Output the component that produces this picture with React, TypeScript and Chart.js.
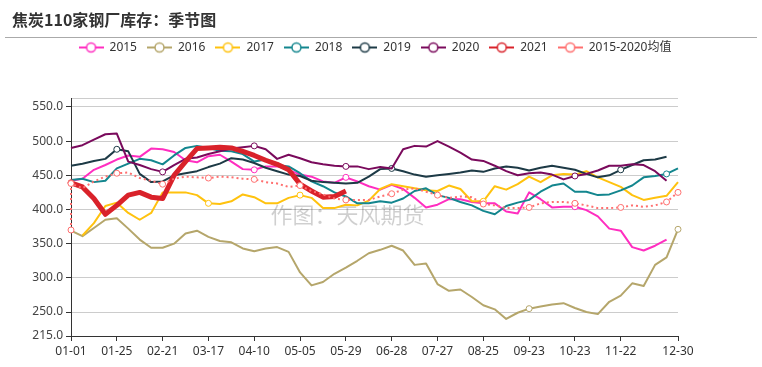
import React, { useEffect, useRef } from 'react';
import { Chart, registerables } from 'chart.js';

Chart.register(...registerables);

// ---------- data ----------
const categories = [
  '01-01', '01-08', '01-11', '01-18', '01-25', '02-01', '02-08', '02-14', '02-21', '02-28',
  '03-03', '03-10', '03-17', '03-24', '03-27', '04-03', '04-10', '04-17', '04-24', '04-30',
  '05-05', '05-12', '05-15', '05-22', '05-29', '06-05', '06-12', '06-19', '06-28', '07-03',
  '07-10', '07-17', '07-27', '07-31', '08-07', '08-14', '08-25', '08-28', '09-04', '09-11',
  '09-23', '09-25', '10-09', '10-16', '10-23', '10-30', '11-06', '11-13', '11-22', '11-27',
  '12-04', '12-11', '12-18', '12-30',
];

const series2015 = [442, 445, 458, 465, 473, 479, 477, 489, 488, 484, 472, 469, 478, 480, 470, 459, 458, 463, 463, 458, 451, 448, 441, 439, 447, 441, 434, 429, 436, 430, 417, 403, 407, 415, 415, 411, 409, 409, 397, 394, 425, 415, 403, 404, 404, 399, 390, 372, 369, 345, 340, 347, 356, null];
const series2016 = [369, 361, 373, 385, 387, 372, 356, 344, 344, 350, 365, 369, 360, 354, 352, 343, 339, 343, 345, 338, 308, 289, 294, 306, 315, 325, 336, 341, 347, 340, 319, 321, 291, 281, 283, 272, 260, 254, 240, 249, 255, 258, 261, 263, 256, 250, 247, 265, 274, 292, 288, 319, 330, 371];
const series2017 = [null, 362, 380, 405, 410, 395, 385, 395, 425, 425, 425, 421, 409, 408, 412, 422, 418, 409, 409, 417, 421, 417, 402, 402, 407, 406, 413, 430, 437, 434, 431, 428, 427, 435, 430, 412, 412, 434, 429, 437, 448, 440, 450, 452, 451, 456, 447, 440, 433, 421, 414, 417, 420, 440];
const series2018 = [443, 445, 440, 442, 460, 467, 474, 472, 466, 479, 490, 493, 490, 486, 485, 481, 470, 473, 465, 463, 453, 441, 434, 425, 419, 409, 409, 412, 410, 416, 427, 431, 421, 417, 411, 406, 398, 393, 405, 410, 414, 426, 435, 438, 426, 426, 421, 422, 428, 435, 447, 449, 452, 460];
const series2019 = [464, 467, 471, 474, 488, 485, 452, 440, 441, 450, 453, 456, 462, 467, 475, 473, 468, 461, 456, 451, 449, 442, 440, 439, 438, 439, 448, 459, 460, 456, 451, 448, 450, 452, 454, 457, 455, 460, 463, 461, 457, 461, 464, 461, 458, 452, 447, 450, 458, 465, 472, 473, 477, null];
const series2020 = [490, 494, 502, 510, 511, 470, 465, 459, 455, 465, 474, 476, 481, 485, 489, 491, 493, 488, 474, 480, 475, 469, 466, 464, 463, 463, 459, 462, 460, 488, 493, 492, 500, 492, 483, 473, 471, 464, 456, 450, 453, 454, 451, 444, 449, 452, 457, 464, 464, 466, 465, 456, 442, null];
const series2021 = [439, 433, 416, 393, 406, 421, 425, 418, 416, 450, 470, 489, 490, 491, 490, 485, 479, 472, 466, 458, 437, 427, 418, 419, 427];
const avgFirstValue = 370;
const seriesAvg = [438, 431, 441, 448, 453, 454, 446, 442, 437, 445, 448, 447, 446, 448, 447, 445, 444, 440, 438, 433, 435, 427, 422, 416, 414, 414, 414, 419, 423, 429, 431, 426, 421, 417, 419, 418, 408, 406, 402, 402, 403, 409, 411, 411, 409, 406, 402, 402, 403, 406, 404, 406, 411, 425];

const yTickValues = [215, 250, 300, 350, 400, 450, 500, 550];
const yMin = 215;
const yMax = 563;
const xLabelIndices = [0, 4, 8, 12, 16, 20, 24, 28, 32, 36, 40, 44, 48, 53];

// category indices that carry a hollow marker
const markers2015 = [16, 24, 44];
const markers2016 = [40, 53];
const markers2017 = [12, 20, 36];
const markers2018 = [52];
const markers2019 = [4, 28, 48];
const markers2020 = [8, 16, 24, 44];
const markers2021 = [0];
const markersAvg = [0, 4, 8, 12, 16, 20, 24, 28, 32, 36, 40, 44, 48, 52, 53];

const TITLE = '焦炭110家钢厂库存：季节图';
const WATERMARK = '作图：天风期货';
const FONT = '"Noto Sans", "Noto Sans CJK SC", sans-serif';

const seriesDefs = [
  { label: '2015', data: series2015 as (number | null)[] | any[], color: '#ff2ec0', width: 2, dash: [] as number[], markers: markers2015 },
  { label: '2016', data: series2016, color: '#b5a66b', width: 2, dash: [], markers: markers2016 },
  { label: '2017', data: series2017, color: '#ffc20e', width: 2, dash: [], markers: markers2017 },
  { label: '2018', data: series2018, color: '#13868e', width: 2, dash: [], markers: markers2018 },
  { label: '2019', data: series2019, color: '#1d3a46', width: 2, dash: [], markers: markers2019 },
  { label: '2020', data: series2020, color: '#7a0a5c', width: 2, dash: [], markers: markers2020 },
  { label: '2021', data: series2021, color: '#d9222a', width: 5, dash: [], markers: markers2021 },
  {
    label: '2015-2020均值',
    data: [{ x: categories[0], y: avgFirstValue }, ...seriesAvg.map((v, i) => ({ x: categories[i], y: v }))],
    color: '#ff6f6f', width: 2, dash: [2, 3], markers: markersAvg,
  },
];

function makeIcon(color: string) {
  const c = document.createElement('canvas');
  c.width = 25;
  c.height = 14;
  const g = c.getContext('2d')!;
  g.strokeStyle = color;
  g.lineWidth = 2;
  g.beginPath();
  g.moveTo(0, 7);
  g.lineTo(25, 7);
  g.stroke();
  g.beginPath();
  g.arc(12.5, 7, 4.5, 0, Math.PI * 2);
  g.fillStyle = '#ffffff';
  g.fill();
  g.lineWidth = 1.5;
  g.stroke();
  return c;
}

const decorPlugin = {
  id: 'decor',
  beforeDatasetsDraw(chart: any) {
    const { ctx, chartArea } = chart;
    ctx.save();
    ctx.font = '22px "Noto Sans CJK SC", sans-serif';
    ctx.fillStyle = 'rgba(0,0,0,0.19)';
    ctx.textAlign = 'center';
    ctx.textBaseline = 'middle';
    ctx.fillText(WATERMARK, chartArea.left + chartArea.width * 0.4555, chartArea.top + chartArea.height * 0.49);
    ctx.restore();
  },
  afterDraw(chart: any) {
    const { ctx, width } = chart;
    ctx.save();
    ctx.strokeStyle = '#aaaaaa';
    ctx.lineWidth = 1;
    ctx.beginPath();
    ctx.moveTo(5, 37.5);
    ctx.lineTo(width - 5, 37.5);
    ctx.stroke();
    ctx.restore();
  },
};

export default function App() {
  const canvasRef = useRef<HTMLCanvasElement | null>(null);

  useEffect(() => {
    document.body.style.margin = '0';
    const canvas = canvasRef.current;
    if (!canvas) return;
    const n = seriesDefs.length;
    const icons = seriesDefs.map((s) => makeIcon(s.color));

    const chart = new Chart(canvas, {
      type: 'line',
      data: {
        labels: categories,
        datasets: seriesDefs.map((s, i) => ({
          label: s.label,
          data: s.data as any,
          borderColor: s.color,
          backgroundColor: s.color,
          borderWidth: s.width,
          borderDash: s.dash,
          borderCapStyle: 'butt',
          borderJoinStyle: 'round',
          tension: 0,
          fill: false,
          spanGaps: true,
          order: n - i,
          pointRadius: (ctx: any) => (ctx.parsed && s.markers.includes(ctx.parsed.x) ? 3 : 0),
          pointHoverRadius: 0,
          pointBackgroundColor: '#ffffff',
          pointBorderColor: s.color,
          pointBorderWidth: 1,
        })),
      },
      options: {
        responsive: false,
        animation: false,
        events: [],
        devicePixelRatio: 1,
        layout: { padding: { left: 12, right: 24, top: 0, bottom: 0 } },
        plugins: {
          title: {
            display: true,
            text: TITLE,
            align: 'start',
            color: '#333333',
            font: { size: 16, weight: 'bold', family: '"Noto Sans CJK SC", sans-serif', lineHeight: 1.2 },
            padding: { top: 10.4, bottom: 1.9 },
          },
          subtitle: {
            display: true,
            text: '',
            weight: 500,
            font: { size: 12, lineHeight: 1.2 },
            padding: { top: 20.1, bottom: 0 },
          } as any,
          legend: {
            display: true,
            position: 'top',
            align: 'center',
            labels: {
              usePointStyle: true,
              pointStyleWidth: 25,
              padding: 10,
              color: '#333333',
              font: { size: 12, family: FONT },
              generateLabels: (ch: any) =>
                ch.data.datasets.map((ds: any, i: number) => ({
                  text: ds.label,
                  pointStyle: icons[i],
                  fillStyle: 'rgba(0,0,0,0)',
                  strokeStyle: 'rgba(0,0,0,0)',
                  lineWidth: 0,
                  hidden: false,
                  datasetIndex: i,
                  fontColor: '#333333',
                })),
            },
          },
          tooltip: { enabled: false },
        },
        scales: {
          x: {
            type: 'category',
            offset: false,
            grid: { drawOnChartArea: false, drawTicks: true, tickLength: 5, color: '#333333' },
            border: { color: '#333333', width: 1 },
            ticks: {
              autoSkip: false,
              maxRotation: 0,
              minRotation: 0,
              color: '#333333',
              padding: 3,
              font: { size: 12, family: FONT },
            },
            afterBuildTicks: (s: any) => {
              s.ticks = xLabelIndices.map((i) => ({ value: i }));
            },
            afterFit: (s: any) => {
              s.height = 31;
            },
          },
          y: {
            type: 'linear',
            position: 'left',
            min: yMin,
            max: yMax,
            grid: {
              color: '#cccccc',
              tickLength: 5,
              tickColor: (ctx: any) => (ctx.tick && ctx.tick.value === yMax ? 'rgba(0,0,0,0)' : '#333333'),
            },
            border: { color: '#333333', width: 1 },
            ticks: {
              color: '#444444',
              padding: 3,
              font: { size: 12, family: FONT },
              callback: (v: any) => (yTickValues.includes(Number(v)) ? Number(v).toFixed(1) : ''),
            },
            afterBuildTicks: (s: any) => {
              s.ticks = [...yTickValues, yMax].map((v) => ({ value: v }));
            },
            afterFit: (s: any) => {
              s.width = 59;
            },
          },
          spacer: {
            type: 'linear',
            position: 'right',
            display: true,
            grid: { display: false },
            border: { display: false },
            ticks: { display: false },
            afterFit: (s: any) => {
              s.width = 60;
            },
          },
        },
      } as any,
      plugins: [decorPlugin],
    });

    return () => {
      chart.destroy();
    };
  }, []);

  return (
    <div style={{ width: 762, height: 367, position: 'relative' }}>
      <canvas ref={canvasRef} width={762} height={367} style={{ width: 762, height: 367, display: 'block' }} />
    </div>
  );
}
